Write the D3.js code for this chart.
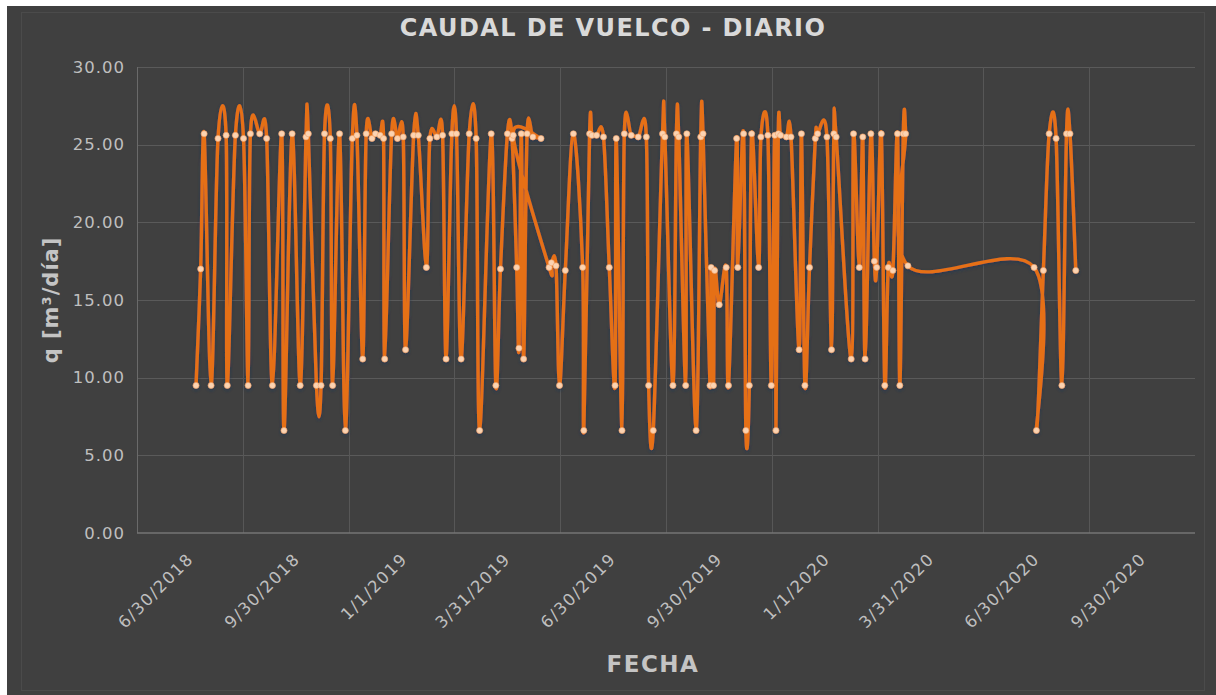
<!DOCTYPE html>
<html><head><meta charset="utf-8">
<script src="https://cdn.jsdelivr.net/npm/d3@7"></script>
<style>html,body{margin:0;padding:0;background:#fff;} svg{display:block;}</style>
</head><body>
<svg id="chart" width="1216" height="695"></svg>
<script>
// ---------------- DATA ----------------
const chartTitle = "CAUDAL DE VUELCO - DIARIO";
const xTitle = "FECHA";
const yTitle = "q [m³/día]";

const fechas = [
"2018-07-07","2018-07-11","2018-07-14","2018-07-20","2018-07-26","2018-08-02","2018-08-03","2018-08-10","2018-08-17","2018-08-21",
"2018-08-23","2018-08-31","2018-09-06","2018-09-11","2018-09-19","2018-09-21","2018-09-28","2018-10-05","2018-10-10","2018-10-12",
"2018-10-19","2018-10-23","2018-10-26","2018-10-31","2018-11-02","2018-11-08","2018-11-13","2018-11-19","2018-11-23",
"2018-11-28","2018-12-01","2018-12-06","2018-12-09","2018-12-13","2018-12-16","2018-12-17","2018-12-23","2018-12-28","2019-01-02",
"2019-01-04","2019-01-11","2019-01-15","2019-01-22","2019-01-25","2019-01-31","2019-02-05","2019-02-08","2019-02-13","2019-02-17",
"2019-02-21","2019-02-28","2019-03-06","2019-03-09","2019-03-19","2019-03-23","2019-03-27","2019-04-02","2019-04-06","2019-04-10",
"2019-04-12","2019-04-14","2019-04-16","2019-04-19","2019-04-24","2019-05-01","2019-04-07","2019-05-08","2019-05-10","2019-05-14",
"2019-05-17","2019-05-22","2019-05-29","2019-06-06","2019-06-07","2019-06-12","2019-06-14","2019-06-18","2019-06-24","2019-06-29",
"2019-07-04","2019-07-05","2019-07-10","2019-07-12","2019-07-18","2019-07-24","2019-07-31","2019-08-02","2019-08-06","2019-08-14",
"2019-08-16","2019-08-23","2019-08-26","2019-08-28","2019-09-03","2019-09-04","2019-09-12","2019-09-16","2019-09-18","2019-09-24",
"2019-09-25","2019-09-27","2019-09-28","2019-10-02","2019-10-08","2019-10-10","2019-10-17","2019-10-18","2019-10-23","2019-10-25",
"2019-10-28","2019-10-30","2019-11-05","2019-11-07","2019-11-13","2019-11-16","2019-11-19","2019-11-20","2019-11-22","2019-11-24",
"2019-11-29","2019-12-03","2019-12-10","2019-12-12","2019-12-15","2019-12-19","2019-12-24","2019-12-26","2020-01-03","2020-01-07",
"2020-01-09","2020-01-11","2020-01-24","2020-01-26","2020-01-31","2020-02-03","2020-02-05","2020-02-10","2020-02-13","2020-02-15",
"2020-02-19","2020-02-22","2020-02-25","2020-02-29","2020-03-04","2020-03-06","2020-03-09","2020-03-11","2020-03-13","2020-06-30",
"2020-07-02","2020-07-08","2020-07-13","2020-07-19","2020-07-24","2020-07-28","2020-07-31","2020-08-05"
];
const caudal = [
9.5,17.0,25.7,9.5,25.4,25.6,9.5,25.6,25.4,9.5,
25.7,25.7,25.4,9.5,25.7,6.6,25.7,9.5,25.5,25.7,
9.5,9.5,25.7,25.4,9.5,25.7,6.6,25.4,25.6,
11.2,25.7,25.4,25.7,25.6,25.4,11.2,25.7,25.4,25.5,
11.8,25.6,25.6,17.1,25.4,25.5,25.6,11.2,25.7,25.7,
11.2,25.7,25.4,6.6,25.7,9.5,17.0,25.7,25.4,17.1,
11.9,25.7,11.2,25.7,25.5,25.4,25.6,17.1,17.4,17.2,
9.5,16.9,25.7,17.1,6.6,25.7,25.6,25.6,25.5,17.1,
9.5,25.4,6.6,25.7,25.6,25.5,25.5,9.5,6.6,25.7,
25.5,9.5,25.7,25.5,9.5,25.7,6.6,25.5,25.7,9.5,
17.1,9.5,16.9,14.7,17.1,9.5,25.4,17.1,25.7,6.6,
9.5,25.7,17.1,25.5,25.6,9.5,25.6,6.6,25.7,25.6,
25.5,25.5,11.8,25.7,9.5,17.1,25.4,25.7,25.5,11.8,
25.7,25.5,11.2,25.7,17.1,25.5,11.2,25.7,17.5,17.1,
25.7,9.5,17.1,16.9,25.7,9.5,25.7,25.7,17.2,17.1,
6.6,16.9,25.7,25.4,9.5,25.7,25.7,16.9
];
const yTicks = [0, 5, 10, 15, 20, 25, 30];
const xTickFechas = ["2018-06-30","2018-09-30","2019-01-01","2019-03-31","2019-06-30","2019-09-30","2020-01-01","2020-03-31","2020-06-30","2020-09-30"];
const xTickLabels = ["6/30/2018","9/30/2018","1/1/2019","3/31/2019","6/30/2019","9/30/2019","1/1/2020","3/31/2020","6/30/2020","9/30/2020"];
const xDomain = ["2018-05-17","2020-11-16"];

// ---------------- CHART ----------------
const parse = d3.utcParse("%Y-%m-%d");
const svg = d3.select("#chart");
const P = {left: 137, right: 1195, top: 67, bottom: 533};

const defs = svg.append("defs");
const f = defs.append("filter").attr("id","shadow").attr("x","-10%").attr("y","-10%").attr("width","120%").attr("height","120%");
f.append("feDropShadow").attr("dx",0).attr("dy",1.5).attr("stdDeviation",1.6)
  .attr("flood-color","#1d3552").attr("flood-opacity",0.85);

// background
svg.append("rect").attr("x",7).attr("y",6).attr("width",1209).attr("height",689).attr("fill","#404040");
svg.append("rect").attr("x",21.5).attr("y",12.5).attr("width",1183).attr("height",678)
  .attr("fill","none").attr("stroke","#4b4b4b").attr("stroke-width",1);

const x = d3.scaleUtc().domain(xDomain.map(parse)).range([P.left, P.right]);
const y = d3.scaleLinear().domain([0, 30]).range([P.bottom, P.top]);

// gridlines
const grid = svg.append("g");
grid.selectAll("line.h").data(yTicks.filter(v => v > 0)).join("line")
  .attr("x1", P.left).attr("x2", P.right)
  .attr("y1", d => Math.round(y(d)) + 0.5).attr("y2", d => Math.round(y(d)) + 0.5)
  .attr("stroke", "#5a5a5a").attr("stroke-width", 1);
const vGrid = d3.range(1, 10).map(i => P.left + i * (P.right - P.left) / 10);
grid.selectAll("line.v").data(vGrid).join("line")
  .attr("x1", d => Math.round(d) + 0.5).attr("x2", d => Math.round(d) + 0.5)
  .attr("y1", P.top).attr("y2", P.bottom)
  .attr("stroke", "#575757").attr("stroke-width", 1);
// axis lines
svg.append("line").attr("x1", P.left + 0.5).attr("x2", P.left + 0.5).attr("y1", P.top).attr("y2", P.bottom)
  .attr("stroke", "#6a6a6a").attr("stroke-width", 1);
svg.append("line").attr("x1", P.left).attr("x2", P.right).attr("y1", P.bottom).attr("y2", P.bottom)
  .attr("stroke", "#747474").attr("stroke-width", 1.6);

// y axis
const yAxis = svg.append("g").attr("transform", `translate(${P.left},0)`)
  .call(d3.axisLeft(y).tickValues(yTicks).tickFormat(d3.format(".2f")).tickSize(0).tickPadding(12));
yAxis.select(".domain").remove();
yAxis.selectAll("text").attr("fill", "#bfbfbf").attr("font-family", "DejaVu Sans")
  .attr("font-size", 16.5).attr("letter-spacing", 1);

// x axis
const xAxis = svg.append("g").attr("transform", `translate(0,${P.bottom})`)
  .call(d3.axisBottom(x).tickValues(xTickFechas.map(parse))
    .tickFormat((d, i) => xTickLabels[i]).tickSize(0));
xAxis.select(".domain").remove();
xAxis.selectAll("text")
  .attr("fill", "#bfbfbf").attr("font-family", "DejaVu Sans").attr("font-size", 16.5)
  .attr("letter-spacing", 1.5)
  .attr("text-anchor", "end").attr("x", 0).attr("y", 0).attr("dy", 0)
  .attr("transform", "translate(6,27) rotate(-45)");

// series
const pts = fechas.map((d, i) => ({d: parse(d), v: caudal[i]}));
const line = d3.line().x(p => x(p.d)).y(p => y(p.v)).curve(d3.curveCardinal.tension(0));
const series = svg.append("g").attr("filter", "url(#shadow)");
series.append("path").datum(pts).attr("d", line)
  .attr("fill", "none").attr("stroke", "#e56f17").attr("stroke-width", 3.4)
  .attr("stroke-linejoin", "round").attr("stroke-linecap", "round");
series.selectAll("circle").data(pts).join("circle")
  .attr("cx", p => x(p.d)).attr("cy", p => y(p.v)).attr("r", 3)
  .attr("fill", "#fbd3b2").attr("stroke", "#f2a56c").attr("stroke-width", 0.6);

// titles
svg.append("text").attr("x", 613).attr("y", 36).attr("text-anchor", "middle")
  .attr("font-family", "DejaVu Sans").attr("font-weight", "bold").attr("font-size", 24)
  .attr("letter-spacing", 1.4).attr("fill", "#d9d9d9").text(chartTitle);
svg.append("text").attr("transform", "translate(58,300) rotate(-90)").attr("text-anchor", "middle")
  .attr("font-family", "DejaVu Sans").attr("font-weight", "bold").attr("font-size", 21)
  .attr("letter-spacing", 1).attr("fill", "#c4c4c4").text(yTitle);
svg.append("text").attr("x", 653).attr("y", 672).attr("text-anchor", "middle")
  .attr("font-family", "DejaVu Sans").attr("font-weight", "bold").attr("font-size", 23)
  .attr("letter-spacing", 1.5).attr("fill", "#c4c4c4").text(xTitle);
</script>
</body></html>
